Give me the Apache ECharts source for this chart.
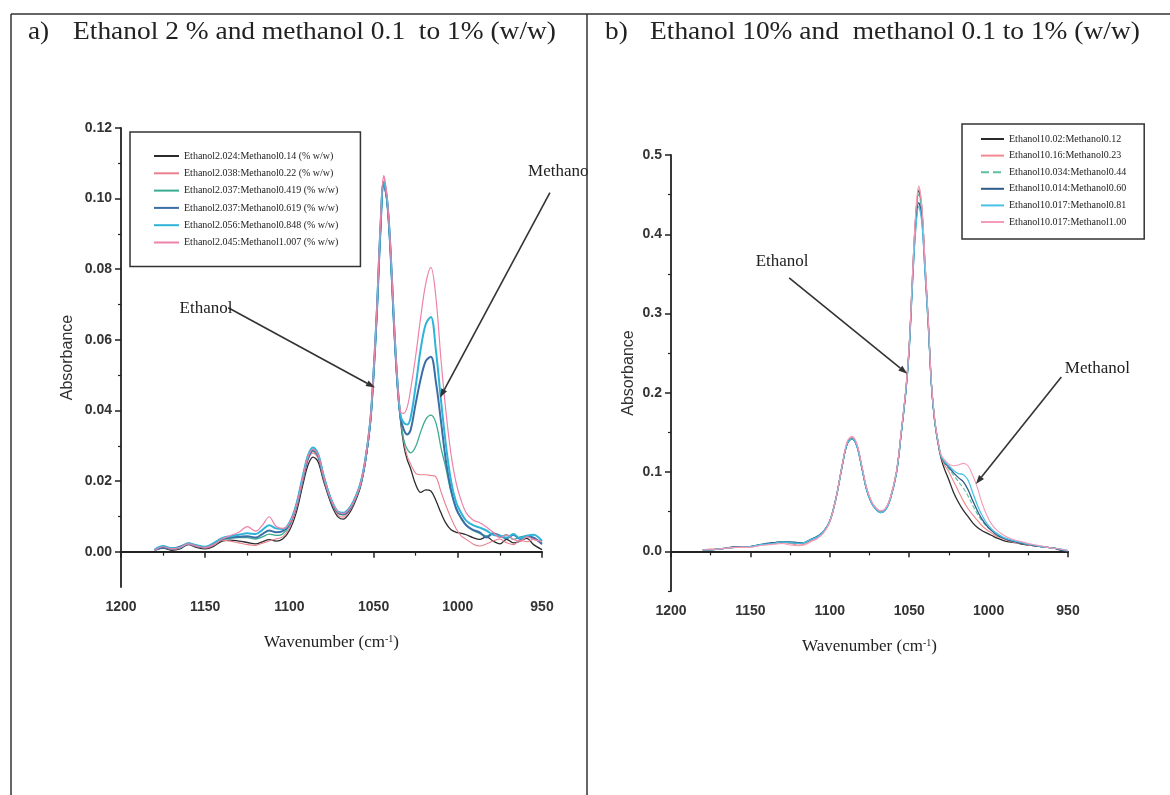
<!DOCTYPE html>
<html><head><meta charset="utf-8">
<script src="https://cdn.jsdelivr.net/npm/echarts@6/dist/echarts.min.js"></script>
<style>html,body{margin:0;padding:0;background:#fff}#c{width:1170px;height:795px}</style>
</head><body><div id="c"></div>
<script>
// ---------- data ----------
const wavenumbers = [1180,1175,1170,1165,1160,1155,1150,1145,1140,1135,1130,1125,1120,1116,1112,1108,1104,1100,1096,1092,1089,1086,1083,1080,1077,1074,1071,1068,1065,1062,1058,1055,1052,1050,1048,1046,1044,1042,1040,1038,1036,1034,1032,1030,1028,1025,1022,1019,1016,1013,1010,1007,1004,1001,998,995,991,987,983,979,975,971,967,963,959,955,950];

const leftNames = ['Ethanol2.024:Methanol0.14 (% w/w)','Ethanol2.038:Methanol0.22 (% w/w)','Ethanol2.037:Methanol0.419 (% w/w)','Ethanol2.037:Methanol0.619 (% w/w)','Ethanol2.056:Methanol0.848 (% w/w)','Ethanol2.045:Methanol1.007 (% w/w)'];
const rightNames = ['Ethanol10.02:Methanol0.12','Ethanol10.16:Methanol0.23','Ethanol10.034:Methanol0.44','Ethanol10.014:Methanol0.60','Ethanol10.017:Methanol0.81','Ethanol10.017:Methanol1.00'];

const L1 = [0.0005,0.0010,0.0004,0.0008,0.0020,0.0012,0.0008,0.0015,0.0030,0.0033,0.0030,0.0026,0.0022,0.0028,0.0034,0.0030,0.0036,0.0060,0.0110,0.0190,0.0245,0.0268,0.0255,0.0205,0.0160,0.0122,0.0098,0.0092,0.0105,0.0130,0.0180,0.0250,0.0360,0.0500,0.0680,0.0900,0.1040,0.0990,0.0850,0.0650,0.0480,0.0370,0.0300,0.0260,0.0235,0.0190,0.0168,0.0175,0.0172,0.0145,0.0110,0.0080,0.0062,0.0055,0.0052,0.0048,0.0040,0.0035,0.0042,0.0030,0.0022,0.0035,0.0025,0.0030,0.0038,0.0020,0.0006];
const L2 = [0.0003,0.0012,0.0006,0.0010,0.0022,0.0014,0.0010,0.0018,0.0032,0.0030,0.0025,0.0020,0.0018,0.0024,0.0030,0.0036,0.0042,0.0068,0.0120,0.0200,0.0258,0.0280,0.0265,0.0212,0.0165,0.0128,0.0102,0.0098,0.0110,0.0135,0.0185,0.0255,0.0365,0.0505,0.0690,0.0915,0.1060,0.1000,0.0860,0.0660,0.0490,0.0380,0.0310,0.0270,0.0248,0.0222,0.0218,0.0218,0.0216,0.0212,0.0170,0.0130,0.0095,0.0065,0.0045,0.0035,0.0022,0.0016,0.0022,0.0030,0.0036,0.0025,0.0020,0.0032,0.0028,0.0035,0.0020];
const L3 = [0.0006,0.0014,0.0010,0.0012,0.0024,0.0016,0.0014,0.0020,0.0034,0.0038,0.0040,0.0040,0.0036,0.0042,0.0050,0.0046,0.0050,0.0075,0.0125,0.0205,0.0262,0.0285,0.0270,0.0215,0.0168,0.0130,0.0108,0.0104,0.0115,0.0138,0.0186,0.0255,0.0365,0.0505,0.0685,0.0905,0.1045,0.0995,0.0855,0.0655,0.0485,0.0378,0.0315,0.0290,0.0280,0.0298,0.0340,0.0375,0.0387,0.0365,0.0295,0.0235,0.0168,0.0125,0.0095,0.0075,0.0060,0.0052,0.0045,0.0050,0.0042,0.0048,0.0035,0.0042,0.0045,0.0038,0.0025];
const L4 = [0.0004,0.0012,0.0008,0.0014,0.0022,0.0016,0.0012,0.0022,0.0036,0.0040,0.0042,0.0044,0.0040,0.0050,0.0060,0.0055,0.0058,0.0078,0.0128,0.0208,0.0265,0.0288,0.0272,0.0218,0.0170,0.0132,0.0110,0.0106,0.0116,0.0140,0.0188,0.0256,0.0366,0.0505,0.0685,0.0905,0.1045,0.0995,0.0855,0.0655,0.0488,0.0380,0.0345,0.0332,0.0345,0.0420,0.0490,0.0540,0.0552,0.0480,0.0370,0.0255,0.0175,0.0122,0.0095,0.0075,0.0062,0.0055,0.0040,0.0052,0.0045,0.0038,0.0048,0.0036,0.0044,0.0040,0.0022];
const L5 = [0.0006,0.0016,0.0010,0.0012,0.0024,0.0018,0.0014,0.0024,0.0038,0.0044,0.0048,0.0052,0.0050,0.0062,0.0075,0.0066,0.0064,0.0082,0.0132,0.0215,0.0272,0.0295,0.0278,0.0222,0.0172,0.0135,0.0113,0.0110,0.0120,0.0142,0.0190,0.0258,0.0368,0.0508,0.0688,0.0910,0.1048,0.0998,0.0858,0.0658,0.0490,0.0385,0.0365,0.0360,0.0380,0.0470,0.0575,0.0645,0.0665,0.0570,0.0430,0.0300,0.0200,0.0140,0.0110,0.0088,0.0075,0.0068,0.0060,0.0048,0.0045,0.0040,0.0050,0.0038,0.0045,0.0048,0.0030];
const L6 = [0.0004,0.0014,0.0008,0.0012,0.0022,0.0016,0.0012,0.0020,0.0036,0.0046,0.0055,0.0071,0.0058,0.0075,0.0099,0.0072,0.0066,0.0080,0.0128,0.0210,0.0268,0.0290,0.0275,0.0220,0.0170,0.0134,0.0112,0.0108,0.0118,0.0140,0.0188,0.0258,0.0370,0.0512,0.0695,0.0925,0.1065,0.1005,0.0865,0.0665,0.0495,0.0395,0.0392,0.0410,0.0460,0.0555,0.0665,0.0760,0.0805,0.0720,0.0545,0.0395,0.0275,0.0195,0.0145,0.0110,0.0090,0.0082,0.0070,0.0055,0.0040,0.0048,0.0035,0.0030,0.0042,0.0035,0.0028];

const R1 = [0.002,0.002,0.003,0.004,0.005,0.005,0.006,0.008,0.009,0.011,0.012,0.011,0.010,0.011,0.015,0.018,0.025,0.038,0.068,0.110,0.136,0.142,0.134,0.108,0.080,0.063,0.054,0.050,0.053,0.066,0.100,0.150,0.205,0.258,0.342,0.418,0.455,0.430,0.360,0.290,0.210,0.165,0.138,0.118,0.105,0.090,0.074,0.062,0.052,0.044,0.036,0.030,0.026,0.023,0.020,0.017,0.014,0.012,0.011,0.009,0.008,0.007,0.006,0.005,0.004,0.002,0.000];
const R2 = [0.002,0.003,0.003,0.004,0.005,0.006,0.006,0.007,0.009,0.010,0.011,0.010,0.008,0.009,0.013,0.017,0.024,0.037,0.067,0.109,0.137,0.144,0.135,0.109,0.081,0.064,0.055,0.051,0.054,0.067,0.101,0.151,0.207,0.260,0.345,0.421,0.458,0.433,0.362,0.291,0.212,0.167,0.140,0.120,0.110,0.100,0.088,0.076,0.064,0.054,0.046,0.039,0.032,0.027,0.023,0.019,0.016,0.013,0.011,0.010,0.008,0.007,0.006,0.005,0.004,0.002,0.001];
const R3 = [0.002,0.002,0.003,0.004,0.005,0.005,0.006,0.008,0.009,0.011,0.012,0.011,0.010,0.011,0.015,0.018,0.025,0.038,0.068,0.110,0.137,0.143,0.134,0.108,0.080,0.063,0.054,0.050,0.053,0.066,0.100,0.150,0.205,0.257,0.340,0.414,0.450,0.427,0.358,0.289,0.211,0.166,0.139,0.119,0.112,0.104,0.096,0.088,0.080,0.070,0.058,0.047,0.038,0.031,0.026,0.021,0.017,0.014,0.012,0.010,0.009,0.007,0.006,0.005,0.004,0.003,0.001];
const R4 = [0.002,0.002,0.003,0.004,0.006,0.005,0.006,0.008,0.010,0.011,0.012,0.012,0.011,0.011,0.015,0.019,0.025,0.038,0.068,0.110,0.136,0.142,0.133,0.107,0.079,0.062,0.053,0.049,0.052,0.065,0.099,0.149,0.204,0.255,0.336,0.407,0.440,0.418,0.352,0.286,0.210,0.166,0.140,0.120,0.113,0.106,0.099,0.093,0.088,0.078,0.064,0.051,0.040,0.032,0.026,0.021,0.017,0.014,0.012,0.010,0.009,0.007,0.006,0.005,0.004,0.002,0.000];
const R5 = [0.002,0.002,0.003,0.004,0.005,0.005,0.006,0.008,0.009,0.010,0.012,0.011,0.010,0.011,0.015,0.018,0.025,0.038,0.068,0.110,0.136,0.142,0.133,0.107,0.079,0.062,0.053,0.049,0.052,0.065,0.099,0.149,0.204,0.254,0.334,0.403,0.435,0.414,0.350,0.285,0.210,0.166,0.140,0.121,0.114,0.108,0.102,0.098,0.097,0.090,0.074,0.058,0.045,0.035,0.028,0.023,0.018,0.015,0.013,0.011,0.009,0.008,0.006,0.005,0.004,0.003,0.001];
const R6 = [0.002,0.002,0.003,0.004,0.005,0.005,0.005,0.007,0.008,0.009,0.010,0.008,0.007,0.008,0.012,0.016,0.023,0.037,0.068,0.111,0.139,0.145,0.136,0.110,0.082,0.064,0.055,0.051,0.054,0.067,0.101,0.152,0.208,0.261,0.347,0.424,0.461,0.435,0.364,0.293,0.213,0.168,0.141,0.122,0.116,0.110,0.108,0.109,0.111,0.108,0.096,0.080,0.060,0.045,0.034,0.027,0.021,0.017,0.014,0.012,0.010,0.008,0.007,0.005,0.004,0.003,0.001];

const leftYTicks = [0,0.02,0.04,0.06,0.08,0.10,0.12];
const leftYMinor = [0.01,0.03,0.05,0.07,0.09,0.11];
const rightYTicks = [0,0.1,0.2,0.3,0.4,0.5];
const rightYMinor = [-0.05,0.05,0.15,0.25,0.35,0.45];

const titleA = 'Ethanol 2 % and methanol 0.1  to 1% (w/w)';
const titleB = 'Ethanol 10% and  methanol 0.1 to 1% (w/w)';

// annotations in data coordinates [wavenumber, absorbance]
const annotLeftText = [{text:'Ethanol', at:[1149.5,0.0689], align:'center'},{text:'Methanol', at:[958.3,0.1076], align:'left'}];
const annotLeftArrows = [[[1136.3,0.0691],[1049.2,0.0465]],[[945.3,0.1017],[1010.6,0.0436]]];
const annotRightText = [{text:'Ethanol', at:[1130,0.366], align:'center'},{text:'Methanol', at:[931.5,0.231], align:'center'}];
const annotRightArrows = [[[1125.6,0.345],[1051.2,0.224]],[[954.2,0.22],[1008,0.085]]];

// ---------- styles ----------
const leftColors = ['#2b2b2b','#e8808e','#3aaa90','#3c6ea6','#2fb3d8','#ee82aa'];
const leftWidths = [1.3,1.1,1.3,2.0,2.0,1.2];
const rightColors = ['#2a2a2a','#f08a90','#5cc0a0','#2d5a86','#49c2e8','#f59ab8'];
const rightWidths = [1.3,1.1,1.1,1.3,1.3,1.1];

const chart = echarts.init(document.getElementById('c'), null, {renderer:'canvas'});

function mk(name, vals, color, width, grid, dashed) {
  return {
    name, type:'line', xAxisIndex:grid, yAxisIndex:grid===0?0:2,
    data: wavenumbers.map((w,i)=>[w, vals[i]]),
    symbol:'none', smooth:0.35, animation:false,
    lineStyle:{color, width, type: dashed?'dashed':'solid'},
    itemStyle:{color}
  };
}
const leftVals = [L1,L2,L3,L4,L5,L6];
const rightVals = [R1,R2,R3,R4,R5,R6];
const series = [];
leftVals.forEach((v,i)=>series.push(mk(leftNames[i], v, leftColors[i], leftWidths[i], 0, false)));
rightVals.forEach((v,i)=>series.push(mk(rightNames[i], v, rightColors[i], rightWidths[i], 1, i===2)));

const axisColor = '#222';
const tickFont = {color:'#333', fontFamily:'Liberation Sans', fontSize:14, fontWeight:'bold'};
function xAx(grid, gap) {
  return {
    gridIndex:grid, type:'value', inverse:true, min:950, max:1200, interval:50,
    axisLine:{lineStyle:{color:axisColor, width:2}},
    axisTick:{length:6, lineStyle:{color:axisColor, width:1.5}},
    minorTick:{show:true, splitNumber:2, length:4, lineStyle:{color:axisColor, width:1.2}},
    splitLine:{show:false},
    axisLabel:Object.assign({margin:13, formatter:v=>String(v)}, tickFont),
    name:'Wavenumber (cm{sup|-1})', nameLocation:'middle', nameGap:gap,
    nameTextStyle:{fontFamily:'Liberation Serif', fontSize:17, color:'#222',
      rich:{sup:{fontFamily:'Liberation Serif', fontSize:10, color:'#222', verticalAlign:'top'}}}
  };
}
function yMain(grid, min, max, ticks, dec, gap) {
  return {
    gridIndex:grid, type:'value', min, max, position:'left',
    axisLine:{show:true, lineStyle:{color:axisColor, width:1.8}},
    axisTick:{show:true, length:6, customValues:ticks, lineStyle:{color:axisColor, width:1.5}},
    axisLabel:Object.assign({customValues:ticks, formatter:v=>v.toFixed(dec), margin:9}, tickFont),
    splitLine:{show:false},
    name:'Absorbance', nameLocation:'middle', nameRotate:90, nameGap:gap,
    nameTextStyle:{fontFamily:'Liberation Sans', fontSize:16, color:'#333'}
  };
}
function yMinor(grid, min, max, ticks) {
  return {
    gridIndex:grid, type:'value', min, max, position:'left', offset:0,
    axisLine:{show:false},
    axisTick:{show:true, length:3, customValues:ticks, lineStyle:{color:axisColor, width:1.2}},
    axisLabel:{show:false}, splitLine:{show:false}
  };
}

const option = {
  animation:false,
  backgroundColor:'#ffffff',
  grid:[{left:121, top:128, width:421, height:459},{left:671, top:155, width:397, height:436}],
  xAxis:[xAx(0,47), xAx(1,47)],
  yAxis:[yMain(0,-0.01,0.12,leftYTicks,2,45), yMinor(0,-0.01,0.12,leftYMinor),
         yMain(1,-0.05,0.5,rightYTicks,1,34), yMinor(1,-0.05,0.5,rightYMinor)],
  legend:[
    {data:leftNames, orient:'vertical', left:130, top:132, itemWidth:25, itemHeight:10, itemGap:5.3,
     padding:[18,22,18,23], borderColor:'#333', borderWidth:1.5, selectedMode:false,
     itemStyle:{opacity:0},
     textStyle:{fontFamily:'Liberation Serif', fontSize:10, color:'#222', lineHeight:12}},
    {data:rightNames, orient:'vertical', left:962, top:124, itemWidth:23, itemHeight:10, itemGap:4.6,
     padding:[9,18,11,18], borderColor:'#333', borderWidth:1.5, selectedMode:false,
     itemStyle:{opacity:0},
     textStyle:{fontFamily:'Liberation Serif', fontSize:10, color:'#222', lineHeight:12}}
  ],
  series
};
chart.setOption(option);

// ---------- graphic: frame, titles, annotations ----------
function arrow(p0, p1, color) {
  const dx=p1[0]-p0[0], dy=p1[1]-p0[1], L=Math.hypot(dx,dy), ux=dx/L, uy=dy/L;
  const hl=9, hw=3.2, bx=p1[0]-ux*hl, by=p1[1]-uy*hl;
  return [
    {type:'line', z:50, shape:{x1:p0[0],y1:p0[1],x2:bx,y2:by}, style:{stroke:color, lineWidth:1.6}},
    {type:'polygon', z:50, shape:{points:[[p1[0],p1[1]],[bx-uy*hw,by+ux*hw],[bx+uy*hw,by-ux*hw]]}, style:{fill:color}}
  ];
}
const g = [];
g.push({type:'line', z:60, shape:{x1:11,y1:14,x2:1170,y2:14}, style:{stroke:'#333', lineWidth:1.5}});
g.push({type:'line', z:60, shape:{x1:11,y1:14,x2:11,y2:795}, style:{stroke:'#333', lineWidth:1.5}});
function txt(text, x, y, size, align, sx) {
  const el = {type:'text', z:55, x, y, style:{text, x:0, y:0, font:size+'px "Liberation Serif"', fill:'#222',
    align:align||'left', textAlign:align||'left', verticalAlign:'middle', textVerticalAlign:'middle'}};
  if (sx) el.scaleX = sx;
  return el;
}
g.push(txt('a)', 28, 32, 26, 'left', 1.05));
g.push(txt(titleA, 73, 32, 26, 'left', 1.055));
g.push(txt('b)', 605, 32, 26, 'left', 1.05));
g.push(txt(titleB, 650, 32, 26, 'left', 1.055));
function addAnnots(gridIndex, texts, arrows) {
  texts.forEach(t=>{
    const p = chart.convertToPixel({gridIndex}, t.at);
    g.push(txt(t.text, p[0], p[1], 17, t.align));
  });
  arrows.forEach(a=>{
    const p0 = chart.convertToPixel({gridIndex}, a[0]);
    const p1 = chart.convertToPixel({gridIndex}, a[1]);
    arrow(p0, p1, '#333').forEach(e=>g.push(e));
  });
}
addAnnots(0, annotLeftText, annotLeftArrows);
addAnnots(1, annotRightText, annotRightArrows);
g.push({type:'rect', z:58, shape:{x:587.8, y:150, width:14, height:40}, style:{fill:'#fff'}});
g.push({type:'line', z:60, shape:{x1:587,y1:14,x2:587,y2:795}, style:{stroke:'#333', lineWidth:1.5}});
chart.setOption({graphic:g});
</script>
</body></html>
